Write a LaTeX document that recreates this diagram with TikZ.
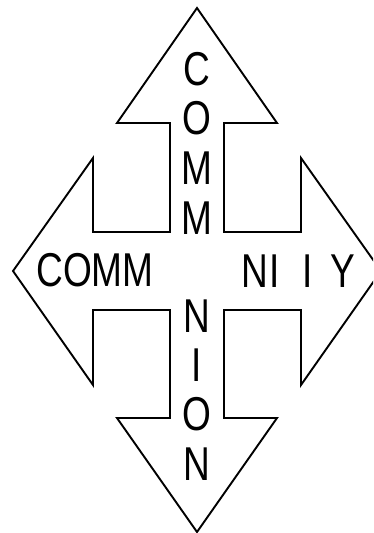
\documentclass[tikz,border=0pt]{standalone}
\usepackage{fontspec}
\setmainfont{Liberation Sans}
\newcommand{\narrowtxt}[1]{\scalebox{0.78}[1]{#1}}
\begin{document}
\begin{tikzpicture}[x=1pt,y=-1pt,
  lbl/.style={inner sep=0pt,anchor=base,font=\fontsize{47.5}{50}\selectfont},
  outline/.style={draw=black,line width=1.9pt,line join=miter,fill=white}]
\useasboundingbox (0,0) rectangle (373,533);
\clip (0,0) rectangle (373,533);
\draw[outline] (197,8) -- (277,123) -- (224,123) -- (224,232) -- (301,232) -- (301,158)
  -- (381,271) -- (301,385) -- (301,310) -- (224,310) -- (224,418) -- (277,418)
  -- (197,532) -- (117,418) -- (170,418) -- (170,310) -- (93,310) -- (93,385)
  -- (13,271) -- (93,158) -- (93,232) -- (170,232) -- (170,123) -- (117,123) -- cycle;
% top arm
\node[lbl] (t1) at (197,85) {\narrowtxt{C}};
\node[lbl] (t2) at (197,134) {\narrowtxt{O}};
\node[lbl] (t3) at (197,184) {\narrowtxt{M}};
\node[lbl] (t4) at (197,234) {\narrowtxt{M}};
% bottom arm
\node[lbl] (b1) at (197,332) {\narrowtxt{N}};
\node[lbl] (b2) at (197,381) {\narrowtxt{I}};
\node[lbl] (b3) at (197,430) {\narrowtxt{O}};
\node[lbl] (b4) at (197,480) {\narrowtxt{N}};
% left arm
\node[lbl] (l1) at (95,286) {\narrowtxt{COMM}};
% right arm
\node[lbl] (r1) at (255,287) {\narrowtxt{N}};
\node[lbl] (r2) at (275,287) {\narrowtxt{I}};
\node[lbl] (r3) at (308,287) {\narrowtxt{I}};
\node[lbl] (r4) at (342.5,287) {\narrowtxt{Y}};
\end{tikzpicture}
\end{document}
